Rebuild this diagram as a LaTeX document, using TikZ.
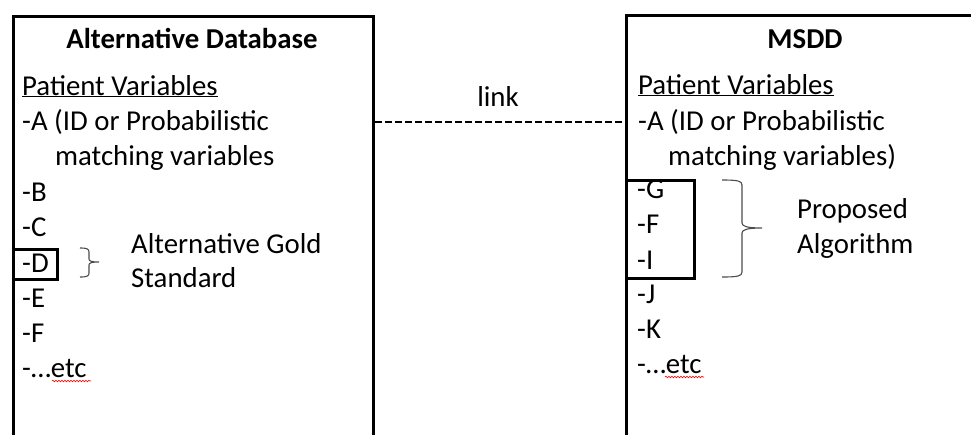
\documentclass[tikz,border=0pt]{standalone}
\usepackage{fontspec}
\setmainfont{Carlito}
\usetikzlibrary{decorations.pathmorphing}
\begin{document}
\begin{tikzpicture}[x=1pt,y=-1pt,
  box/.style={draw, line width=3pt, rectangle, inner sep=0pt, anchor=north west},
  sel/.style={draw, line width=2.6pt, rectangle, inner sep=0pt, anchor=north west},
  txt/.style={anchor=base west, inner sep=0pt, font=\fontsize{28.8}{34}\selectfont},
  ttl/.style={anchor=base, inner sep=0pt, font=\fontsize{28.8}{34}\selectfont\bfseries},
  brc/.style={draw=black!70, line width=1.1pt},
  linkline/.style={line width=2.6pt, dash pattern=on 6.5pt off 3.5pt},
  spell/.style={draw=red, line width=0.6pt, decorate, decoration={snake, amplitude=0.8pt, segment length=3pt}}]
\useasboundingbox (0,0) rectangle (971,434);
\clip (0,0) rectangle (971,434);
% boxes (open at the bottom, run off the picture)
\node[box, minimum width=360pt, minimum height=500pt] (alt) at (12,15) {};
\node[box, minimum width=360pt, minimum height=500pt] (msdd) at (625,14) {};
% link
\coordinate (lk) at (0,122);
\draw[linkline] (alt.east |- lk) -- (msdd.west |- lk);
\node[anchor=base, inner sep=0pt, font=\fontsize{28.8}{34}\selectfont] (linktxt) at (498,106) {link};
% left box content
\node[ttl] (altT) at (192,48) {Alternative Database};
\node[txt] (aPV) at (22,95) {\underline{Patient Variables}};
\node[txt] (aA) at (22,130) {-A (ID or Probabilistic};
\node[txt] (aA2) at (55,165) {matching variables};
\node[txt] (aB) at (22,201) {-B};
\node[txt] (aC) at (22,236) {-C};
\node[txt] (aD) at (22,272) {-D};
\node[txt] (aE) at (22,307) {-E};
\node[txt] (aF) at (22,342) {-F};
\node[txt] (aEtc) at (22,377) {-…etc};
\node[sel, minimum width=44pt, minimum height=30pt] (dbox) at (12,248) {};
\coordinate (db1) at (80,248);
\coordinate (dbt) at (99,262);
\coordinate (db2) at (80,277);
\draw[brc] (db1) .. controls (87,248) and (89,249) .. (89,252) -- (89,259)
  .. controls (89,261) and (91,262) .. (dbt)
  .. controls (91,262) and (89,263) .. (89,265) -- (89,273)
  .. controls (89,276) and (87,277) .. (db2);
\node[txt] (gold1) at (131,253) {Alternative Gold};
\node[txt] (gold2) at (131,287) {Standard};
\coordinate (sp1) at (52,381);
\coordinate (sp2) at (91,381);
\draw[spell] (sp1) -- (sp2);
% right box content
\node[ttl] (msddT) at (805,48) {MSDD};
\node[txt] (mPV) at (638,94) {\underline{Patient Variables}};
\node[txt] (mA) at (638,130) {-A (ID or Probabilistic};
\node[txt] (mA2) at (668,165) {matching variables)};
\node[txt] (mG) at (637,198) {-G};
\node[txt] (mF) at (637,233) {-F};
\node[txt] (mI) at (637,269) {-I};
\node[txt] (mJ) at (637,303) {-J};
\node[txt] (mK) at (637,338) {-K};
\node[txt] (mEtc) at (637,373) {-…etc};
\node[sel, minimum width=68pt, minimum height=98pt] (gbox) at (625,179) {};
\coordinate (gb1) at (722,180);
\coordinate (gbt) at (762,228);
\coordinate (gb2) at (722,277);
\draw[brc] (gb1) .. controls (738,180) and (742,181) .. (742,185) -- (742,223)
  .. controls (742,226) and (746,228) .. (gbt)
  .. controls (746,228) and (742,230) .. (742,233) -- (742,272)
  .. controls (742,276) and (738,277) .. (gb2);
\node[txt] (prop1) at (797,218) {Proposed};
\node[txt] (prop2) at (797,253) {Algorithm};
\coordinate (sp3) at (665,377);
\coordinate (sp4) at (704,377);
\draw[spell] (sp3) -- (sp4);
\end{tikzpicture}
\end{document}
